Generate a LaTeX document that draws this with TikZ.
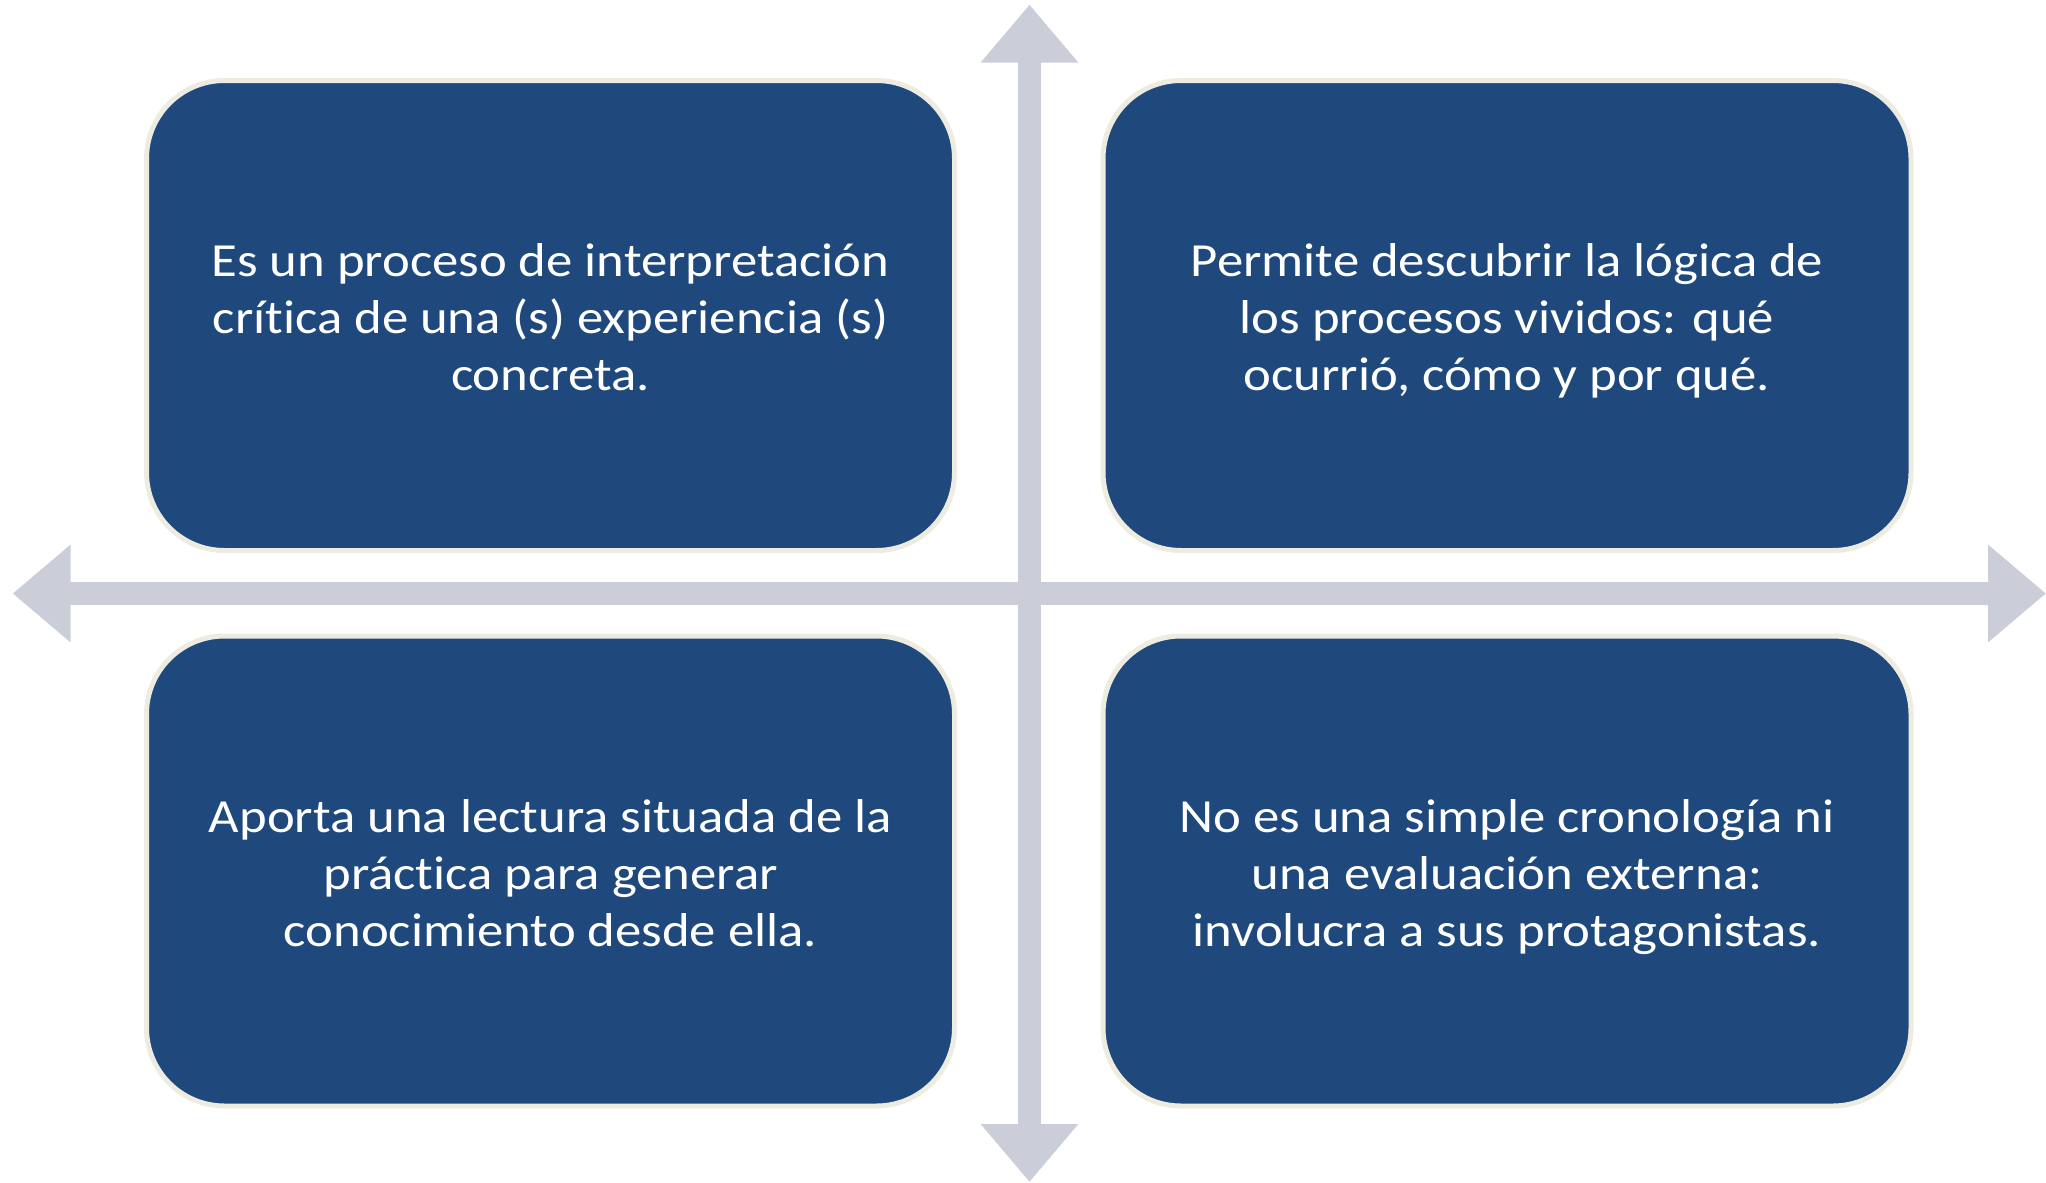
\documentclass[tikz,border=0pt]{standalone}
\usepackage{fontspec}
\setmainfont{Carlito}[FakeStretch=1.11,Ligatures=NoCommon]
\usetikzlibrary{arrows.meta}
\definecolor{boxblue}{HTML}{1F497D}
\definecolor{boxrim}{HTML}{EEECE1}
\definecolor{axisgray}{HTML}{CBCED8}
\newcommand{\qa}{\rule{0pt}{26pt}}
\newcommand{\qd}{\rule[-8pt]{0pt}{8pt}}
\begin{document}
\begin{tikzpicture}[x=0.5pt,y=-0.5pt,
  quadbox/.style={draw=boxrim, line width=2.5pt, fill=boxblue, rounded corners=39pt,
    minimum width=404pt, minimum height=235pt, text=white, align=center,
    font=\fontsize{23.75}{28.5}\selectfont, inner sep=0pt},
  axisline/.style={draw=axisgray, line width=11.5pt,
    {Triangle[width=47pt,length=29pt]}-{Triangle[width=47pt,length=29pt]}}]
\useasboundingbox (0,0) rectangle (2046,1183);
\coordinate (axL) at (12.6,593.5);
\coordinate (axR) at (2046,593.5);
\coordinate (axT) at (1029.5,4.6);
\coordinate (axB) at (1029.5,1182);
\draw[axisline] (axL) -- (axR);
\draw[axisline] (axT) -- (axB);
\node[quadbox] (tl) at (550.5,315.5) {\qa Es un proceso de interpretación\\crítica de una (s) experiencia (s)\\\qd concreta.};
\node[quadbox] (tr) at (1507,315.5) {\qa Permite descubrir la lógica de\\los procesos vividos: qué\\\qd ocurrió, cómo y por qué.};
\node[quadbox] (bl) at (550.5,871) {\qa Aporta una lectura situada de la\\práctica para generar\\\qd conocimiento desde ella.};
\node[quadbox] (br) at (1507,871) {\qa No es una simple cronología ni\\una evaluación externa:\\\qd involucra a sus protagonistas.};
\end{tikzpicture}
\end{document}
